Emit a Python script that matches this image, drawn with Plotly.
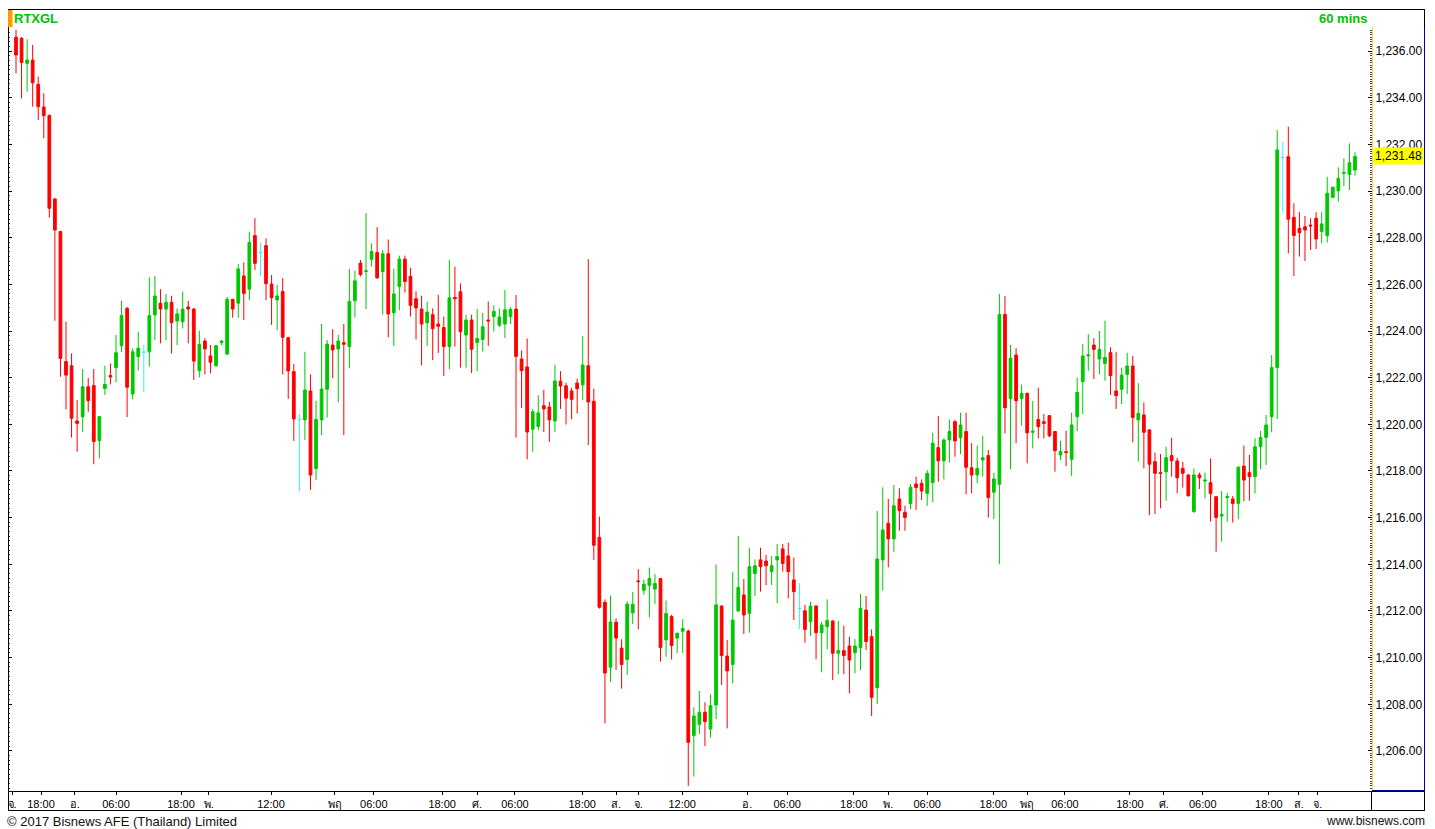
import plotly.graph_objects as go

# ---------------- data (60-minute candles, RTXGL) ----------------
open_ = [
 1236.59,1236.54,1235.47,1235.61,1234.57,1233.60,1233.24,1229.66,1228.26,1222.69,
 1222.51,1220.14,1220.33,1221.61,1221.66,1219.30,1221.54,1222.09,1222.43,1223.37,
 1224.97,1221.30,1222.90,1223.09,1223.11,1224.69,1225.19,1224.94,1225.23,1224.43,
 1224.40,1225.03,1224.94,1222.30,1223.57,1222.93,1222.51,1223.50,1223.01,1225.36,
 1225.19,1226.36,1225.79,1228.09,1227.36,1227.66,1226.01,1225.33,1225.69,1223.71,
 1222.26,1220.21,1220.19,1221.43,1218.11,1220.19,1221.50,1223.40,1223.23,1223.50,
 1223.33,1225.30,1226.91,1226.55,1227.07,1227.36,1226.55,1227.31,1224.78,1225.91,
 1227.08,1226.34,1225.38,1224.94,1224.35,1224.70,1224.30,1224.15,1223.33,1225.44,
 1225.68,1223.83,1224.47,1223.51,1223.64,1224.47,1224.62,1224.25,1224.30,1224.62,
 1224.94,1222.80,1222.46,1219.79,1219.91,1220.80,1220.74,1220.14,1221.85,1221.65,
 1221.43,1221.77,1221.69,1222.51,1220.99,1215.16,1212.37,1209.59,1211.52,1210.41,
 1209.92,1211.92,1213.29,1212.89,1213.10,1212.94,1213.39,1210.76,1211.76,1210.84,
 1211.13,1211.14,1206.66,1207.14,1207.66,1206.94,1207.97,1212.21,1210.07,1209.71,
 1212.00,1212.69,1211.90,1213.61,1214.19,1214.14,1213.69,1214.19,1214.66,1214.36,
 1213.33,1212.11,1212.01,1211.54,1212.21,1211.07,1211.33,1211.57,1210.19,1210.30,
 1210.50,1210.21,1210.43,1212.04,1210.90,1208.71,1214.19,1215.76,1215.09,1216.80,
 1216.23,1216.61,1217.44,1217.47,1217.04,1217.51,1219.00,1218.44,1219.33,1220.11,
 1219.43,1219.69,1218.14,1217.83,1218.47,1218.66,1217.09,1217.43,1224.71,1221.11,
 1222.97,1221.11,1221.33,1219.66,1220.21,1220.11,1220.37,1219.69,1218.69,1218.83,
 1218.50,1220.33,1221.83,1222.93,1223.40,1222.80,1222.61,1223.07,1221.43,1221.50,
 1222.14,1222.50,1220.19,1220.40,1219.76,1218.40,1217.93,1217.97,1218.66,1218.43,
 1218.11,1217.83,1216.26,1217.83,1217.57,1217.50,1216.90,1216.07,1216.86,1216.80,
 1216.61,1218.21,1217.93,1217.76,1219.04,1219.44,1220.33,1222.43,1231.43,1231.47,
 1228.87,1228.40,1228.47,1228.54,1228.83,1228.26,1228.09,1229.73,1230.01,1230.76,
 1230.71,1230.90]
high = [
 1236.91,1236.60,1236.50,1236.26,1234.90,1234.19,1233.28,1229.70,1228.30,1224.40,
 1223.04,1221.04,1222.37,1221.99,1222.37,1220.36,1222.51,1222.61,1223.83,1225.29,
 1225.03,1223.26,1223.97,1223.40,1226.30,1226.36,1225.79,1225.59,1225.51,1224.97,
 1225.69,1225.29,1224.98,1224.01,1223.69,1223.40,1223.40,1223.61,1225.46,1225.37,
 1226.87,1226.94,1228.26,1228.83,1227.79,1227.97,1226.40,1225.97,1226.26,1223.75,
 1222.59,1220.44,1223.11,1222.14,1221.01,1224.30,1223.61,1224.08,1223.83,1224.30,
 1226.66,1226.58,1227.04,1229.05,1227.76,1228.45,1227.47,1227.92,1226.67,1227.23,
 1227.23,1226.71,1225.70,1225.51,1225.26,1224.97,1225.55,1224.62,1227.04,1226.76,
 1226.04,1224.70,1224.70,1224.94,1224.78,1225.26,1225.10,1224.97,1225.75,1225.02,
 1225.54,1223.17,1223.68,1220.66,1221.24,1221.48,1220.96,1222.56,1222.28,1221.78,
 1221.57,1221.96,1223.78,1227.08,1221.53,1216.05,1212.50,1212.66,1211.68,1210.79,
 1212.42,1212.82,1213.79,1213.34,1213.86,1213.58,1213.42,1212.45,1211.84,1211.08,
 1211.65,1211.20,1207.87,1208.57,1208.09,1208.43,1213.99,1212.25,1210.76,1213.66,
 1215.21,1213.37,1214.71,1214.21,1214.71,1214.40,1214.36,1214.87,1214.87,1214.93,
 1214.29,1213.19,1212.26,1212.40,1212.26,1211.54,1212.50,1211.60,1211.57,1211.37,
 1210.90,1210.80,1212.73,1212.64,1211.21,1216.29,1217.30,1216.80,1217.40,1217.26,
 1216.51,1217.44,1217.76,1217.64,1218.04,1219.64,1220.36,1219.40,1220.21,1220.19,
 1220.50,1220.50,1219.19,1219.09,1219.51,1218.90,1217.93,1225.59,1225.50,1223.40,
 1223.26,1221.71,1221.36,1221.00,1221.57,1220.44,1220.40,1219.71,1219.29,1219.73,
 1220.50,1222.00,1223.43,1223.86,1223.69,1224.00,1224.44,1223.30,1223.11,1222.43,
 1223.07,1222.93,1221.76,1220.93,1219.80,1218.79,1218.73,1219.04,1219.43,1218.57,
 1218.40,1217.86,1218.11,1217.93,1217.93,1218.54,1216.93,1217.14,1217.07,1216.93,
 1218.21,1219.09,1218.69,1219.40,1219.71,1220.40,1222.97,1232.61,1232.11,1232.76,
 1229.47,1229.09,1228.93,1228.83,1229.09,1229.09,1230.61,1230.19,1231.01,1231.40,
 1232.04,1231.66]
low = [
 1235.04,1233.97,1234.26,1233.61,1233.04,1232.26,1228.86,1224.44,1222.04,1220.64,
 1219.43,1218.83,1219.66,1220.54,1218.29,1218.54,1221.26,1221.71,1221.80,1223.09,
 1220.31,1221.07,1222.30,1221.37,1222.47,1223.61,1223.47,1223.61,1223.04,1223.40,
 1224.11,1223.47,1221.90,1222.01,1222.14,1222.19,1222.47,1223.40,1222.97,1224.57,
 1224.57,1224.47,1225.33,1226.61,1226.36,1225.31,1224.26,1224.04,1222.14,1221.09,
 1219.29,1217.14,1219.33,1217.19,1217.61,1219.54,1220.29,1221.97,1220.94,1219.54,
 1222.40,1224.57,1226.34,1224.94,1226.76,1226.23,1224.70,1223.73,1223.36,1224.89,
 1225.65,1224.62,1223.64,1222.52,1223.36,1222.75,1223.06,1222.07,1222.36,1223.33,
 1222.43,1222.43,1222.20,1222.28,1223.12,1223.36,1223.97,1224.17,1223.70,1224.30,
 1219.43,1220.70,1218.50,1218.82,1219.74,1219.67,1219.25,1219.67,1220.66,1219.99,
 1220.22,1220.46,1221.03,1219.11,1214.19,1212.10,1207.18,1208.96,1209.47,1208.67,
 1209.26,1211.44,1211.21,1212.70,1211.73,1212.29,1209.83,1210.04,1209.92,1210.20,
 1210.20,1204.50,1204.90,1206.73,1206.21,1206.57,1207.36,1208.83,1206.97,1208.90,
 1211.97,1211.01,1211.07,1212.64,1212.83,1213.11,1213.11,1212.33,1213.69,1212.54,
 1211.61,1211.23,1210.64,1210.93,1209.93,1209.37,1210.36,1209.04,1209.29,1209.29,
 1208.47,1209.33,1209.47,1210.33,1207.50,1208.01,1212.87,1213.87,1214.54,1215.44,
 1215.44,1216.36,1216.33,1216.76,1216.51,1216.66,1217.54,1217.64,1218.36,1218.61,
 1218.73,1217.00,1217.04,1217.47,1217.76,1216.00,1215.93,1214.00,1219.61,1218.07,
 1219.19,1219.94,1218.33,1218.97,1219.40,1219.40,1219.45,1217.97,1218.47,1218.21,
 1217.79,1219.71,1220.44,1222.29,1221.94,1222.14,1221.87,1221.26,1220.66,1220.87,
 1221.30,1219.23,1218.40,1218.11,1216.11,1216.16,1216.40,1216.73,1217.76,1217.04,
 1217.29,1216.90,1216.21,1217.23,1216.83,1215.83,1214.54,1214.97,1215.83,1215.79,
 1215.93,1216.71,1216.73,1217.04,1218.07,1218.26,1219.66,1220.23,1229.11,1227.33,
 1226.36,1227.19,1227.00,1227.47,1227.51,1227.76,1227.79,1229.69,1229.54,1230.21,
 1230.04,1230.66]
close = [
 1235.83,1235.51,1235.61,1234.64,1233.61,1233.23,1229.26,1228.33,1222.83,1222.11,
 1220.26,1220.04,1221.61,1221.01,1219.26,1220.33,1221.71,1222.03,1223.07,1224.66,
 1221.59,1223.11,1223.26,1223.09,1224.66,1225.50,1224.94,1225.23,1224.36,1224.73,
 1224.94,1224.94,1222.71,1223.43,1223.23,1222.66,1223.37,1223.57,1225.36,1224.94,
 1226.66,1225.61,1227.79,1226.90,1227.36,1226.03,1225.43,1225.50,1223.73,1222.29,
 1220.23,1220.21,1221.47,1217.83,1220.21,1221.51,1223.44,1223.19,1223.57,1223.43,
 1225.26,1226.15,1226.42,1226.58,1227.41,1226.28,1227.31,1224.73,1225.59,1227.08,
 1226.12,1225.10,1224.99,1224.30,1224.81,1224.10,1224.20,1223.33,1225.42,1225.38,
 1223.97,1224.47,1223.22,1223.68,1224.18,1224.43,1224.84,1224.60,1224.91,1224.92,
 1222.91,1222.30,1219.67,1220.54,1220.49,1220.66,1220.19,1221.86,1221.64,1221.12,
 1221.07,1221.53,1222.54,1220.96,1214.82,1212.16,1209.34,1211.53,1210.84,1209.71,
 1212.29,1212.29,1213.26,1213.15,1213.39,1213.18,1210.44,1211.89,1210.52,1211.04,
 1211.25,1206.37,1207.50,1207.66,1207.26,1207.94,1212.26,1210.09,1209.43,1211.61,
 1213.01,1211.83,1213.90,1213.94,1213.90,1213.94,1213.94,1214.33,1214.04,1213.69,
 1212.83,1212.11,1211.21,1212.21,1211.07,1211.40,1211.59,1210.19,1210.30,1210.09,
 1209.90,1210.50,1212.11,1210.69,1208.30,1214.23,1215.47,1215.09,1216.51,1216.30,
 1216.01,1217.30,1217.29,1217.14,1217.90,1219.19,1218.44,1219.33,1219.69,1219.29,
 1219.97,1218.16,1217.83,1218.11,1218.57,1216.86,1217.66,1224.71,1220.71,1222.83,
 1221.01,1221.33,1219.64,1219.71,1219.90,1220.04,1219.51,1218.87,1218.83,1218.79,
 1219.97,1221.37,1222.93,1222.97,1223.21,1223.21,1222.87,1222.09,1221.23,1222.11,
 1222.50,1220.29,1220.47,1219.66,1218.29,1217.90,1217.90,1218.57,1218.44,1217.71,
 1217.90,1216.94,1217.83,1217.71,1217.61,1217.04,1216.01,1216.14,1216.90,1216.61,
 1218.16,1217.61,1217.76,1219.04,1219.43,1219.97,1222.43,1231.76,1231.43,1228.79,
 1228.09,1228.21,1228.33,1228.50,1227.94,1228.59,1229.90,1230.16,1230.54,1230.79,
 1231.21,1231.48]

# x-axis labels (Thai day abbreviations and hours) at bar positions
tick_pos = [-0.7, 4.5, 10.6, 18.0, 29.7, 34.7, 45.9, 57.4, 64.4, 76.7,
            83.0, 89.8, 101.9, 108.0, 112.0, 119.9, 131.6, 138.8, 150.8, 157.0,
            164.0, 175.9, 182.0, 188.8, 200.5, 206.6, 213.6, 225.5, 230.9, 234.3]
tick_text = ["จ.", "18:00", "อ.", "06:00", "18:00", "พ.", "12:00", "พฤ", "06:00", "18:00",
             "ศ.", "06:00", "18:00", "ส.", "จ.", "12:00", "อ.", "06:00", "18:00", "พ.",
             "06:00", "18:00", "พฤ", "06:00", "18:00", "ศ.", "06:00", "18:00", "ส.", "จ."]
price_ticks = [1206, 1208, 1210, 1212, 1214, 1216, 1218, 1220, 1222, 1224,
               1226, 1228, 1230, 1232, 1234, 1236]

symbol = "RTXGL"
interval = "60 mins"

# ---------------- figure ----------------
W, H = 1435, 829
L, R, T, B = 8, 63, 27, 38
PW, PH = W - L - R, H - T - B

def px_x(p):
    return (p - L) / PW

def px_y(p):
    return (H - B - p) / PH

idx = list(range(len(close)))
up = [i for i in idx if close[i] > open_[i]]
dn = [i for i in idx if close[i] < open_[i]]
dj = [i for i in idx if close[i] == open_[i]]

GREEN = "#00c800"
RED = "#ff0000"
CYAN = "#33f0ff"

def ck(sel, color):
    return go.Candlestick(
        x=sel,
        open=[open_[i] for i in sel], high=[high[i] for i in sel],
        low=[low[i] for i in sel], close=[close[i] for i in sel],
        increasing=dict(line=dict(color=color, width=1), fillcolor=color),
        decreasing=dict(line=dict(color=color, width=1), fillcolor=color),
        whiskerwidth=0, hoverinfo="skip", showlegend=False)

fig = go.Figure()
fig.add_trace(ck(up, GREEN))
fig.add_trace(ck(dn, RED))
fig.add_trace(ck(dj, CYAN))
# invisible helper so the left tick axis is drawn
fig.add_trace(go.Scatter(x=idx, y=close, yaxis="y2", mode="lines",
                         line=dict(width=0, color="rgba(0,0,0,0)"),
                         hoverinfo="skip", showlegend=False))

x_lo = (L - 16) / 5.556
x_hi = (W - R - 16) / 5.556
y_top = 1236 + (51 - T) / 23.333
y_bot = 1236 - (H - B - 51) / 23.333

FONT = "Liberation Sans, Arial, Noto Sans, DejaVu Sans, sans-serif"

fig.update_layout(
    width=W, height=H,
    margin=dict(l=L, r=R, t=T, b=B, pad=0),
    paper_bgcolor="white", plot_bgcolor="white",
    font=dict(family=FONT, size=12, color="#000"),
    boxmode="overlay", boxgap=0.3, boxgroupgap=0.3,
    showlegend=False,
    xaxis=dict(range=[x_lo, x_hi], rangeslider=dict(visible=False),
               showgrid=False, zeroline=False, showline=False,
               tickmode="array", tickvals=tick_pos, ticktext=tick_text,
               ticks="outside", ticklen=3, tickcolor="#000",
               tickfont=dict(size=11, color="#000", family=FONT)),
    yaxis=dict(range=[y_bot, y_top], side="right", showgrid=False, zeroline=False,
               showline=True, linecolor="#ffd24a", linewidth=1,
               tickmode="array", tickvals=price_ticks, tickformat=",.2f",
               ticks="inside", ticklen=4, tickcolor="#000",
               minor=dict(dtick=0.1, tick0=1206, ticks="inside", ticklen=2, tickcolor="#444"),
               tickfont=dict(size=12, color="#000", family=FONT)),
    yaxis2=dict(range=[y_bot, y_top], overlaying="y", side="left", showgrid=False,
                zeroline=False, showline=False, showticklabels=False,
                tickmode="linear", tick0=1206, dtick=2,
                ticks="inside", ticklen=4, tickcolor="#000",
                minor=dict(dtick=0.2, tick0=1206, ticks="inside", ticklen=2, tickcolor="#444")),
)

BLUE = "#0000a0"
def hline(y, x0, x1, color="#000"):
    fig.add_shape(type="line", xref="paper", yref="paper",
                  x0=px_x(x0), x1=px_x(x1), y0=px_y(y), y1=px_y(y),
                  line=dict(color=color, width=1))

def vline(x, y0, y1, color="#000"):
    fig.add_shape(type="line", xref="paper", yref="paper",
                  x0=px_x(x), x1=px_x(x), y0=px_y(y0), y1=px_y(y1),
                  line=dict(color=color, width=1))

hline(9.5, 8, 1425)
vline(8.5, 9, 811)
vline(1424.5, 9, 27)
vline(1424.5, 27, 790, BLUE)
hline(790.5, 1372, 1425, BLUE)
vline(1424.5, 791, 811)
hline(791.5, 8, 1372)
hline(791.5, 1372, 1425)
vline(1371.5, 791, 811)
hline(810.5, 8, 1425)
fig.add_shape(type="rect", xref="paper", yref="paper",
              x0=px_x(8), x1=px_x(12.5), y0=px_y(27), y1=px_y(10),
              fillcolor="#ff9900", line=dict(width=0))

fig.add_annotation(xref="paper", yref="paper", x=px_x(12), y=px_y(18.5),
                   xanchor="left", yanchor="middle", showarrow=False,
                   text="<b>%s</b>" % symbol,
                   font=dict(size=13, color="#00c000", family=FONT))
fig.add_annotation(xref="paper", yref="paper", x=px_x(1369), y=px_y(18.5),
                   xanchor="right", yanchor="middle", showarrow=False,
                   text="<b>%s</b>" % interval,
                   font=dict(size=13, color="#00c000", family=FONT))
fig.add_annotation(xref="paper", yref="y", x=1, y=close[-1],
                   xanchor="left", yanchor="middle", xshift=1, showarrow=False,
                   text=f"{close[-1]:,.2f}", bgcolor="#ffff00", borderpad=1,
                   font=dict(size=12, color="#000", family=FONT))
fig.add_annotation(xref="paper", yref="paper", x=px_x(5), y=px_y(821),
                   xanchor="left", yanchor="middle", showarrow=False,
                   text="© 2017 Bisnews AFE (Thailand) Limited",
                   font=dict(size=13, color="#111", family=FONT))
fig.add_annotation(xref="paper", yref="paper", x=px_x(1427), y=px_y(821),
                   xanchor="right", yanchor="middle", showarrow=False,
                   text="www.bisnews.com",
                   font=dict(size=12, color="#111", family=FONT))

fig.write_html("out.html", config={"displayModeBar": False},
               post_script="document.body.style.margin='0';document.body.style.overflow='hidden';")
